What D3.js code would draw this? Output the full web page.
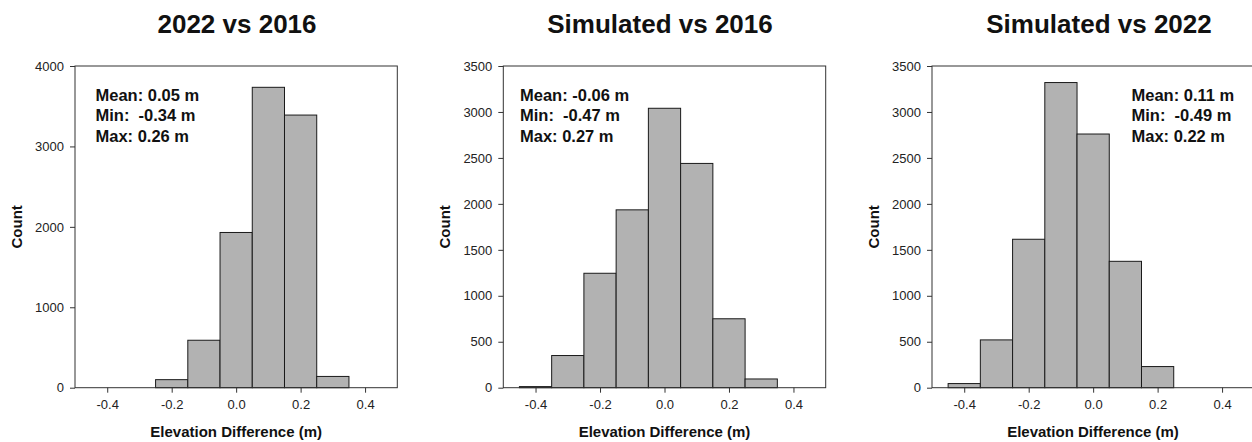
<!DOCTYPE html>
<html>
<head>
<meta charset="utf-8">
<script src="https://cdn.jsdelivr.net/npm/d3@7"></script>
<style>
  html, body { margin: 0; padding: 0; background: #fff; }
  svg { display: block; font-family: "Liberation Sans", Arial, sans-serif; }
</style>
</head>
<body>
<svg id="chart" width="1252" height="442"></svg>
<script>
// ---- data ----
const titles = ["2022 vs 2016", "Simulated vs 2016", "Simulated vs 2022"];
const binWidth = 0.1;
const centers1 = [-0.2, -0.1, 0.0, 0.1, 0.2, 0.3];
const counts1  = [100, 590, 1930, 3735, 3390, 140];
const centers2 = [-0.4, -0.3, -0.2, -0.1, 0.0, 0.1, 0.2, 0.3];
const counts2  = [12, 350, 1245, 1935, 3040, 2440, 750, 95];
const centers3 = [-0.4, -0.3, -0.2, -0.1, 0.0, 0.1, 0.2];
const counts3  = [45, 520, 1615, 3320, 2760, 1375, 230];
const yMax = [4000, 3500, 3500];
const yTicks1 = [0, 1000, 2000, 3000, 4000];
const yTicks23 = [0, 500, 1000, 1500, 2000, 2500, 3000, 3500];
const xTicks = [-0.4, -0.2, 0.0, 0.2, 0.4];
const stats1 = ["Mean: 0.05 m", "Min:  -0.34 m", "Max: 0.26 m"];
const stats2 = ["Mean: -0.06 m", "Min:  -0.47 m", "Max: 0.27 m"];
const stats3 = ["Mean: 0.11 m", "Min:  -0.49 m", "Max: 0.22 m"];
const xLabel = "Elevation Difference (m)";
const yLabel = "Count";

const panels = [
  {title: titles[0], centers: centers1, counts: counts1, yMax: yMax[0], yTicks: yTicks1, stats: stats1,
   left: 75, right: 397.3, titleX: 237, statsX: 95.5},
  {title: titles[1], centers: centers2, counts: counts2, yMax: yMax[1], yTicks: yTicks23, stats: stats2,
   left: 503.3, right: 825.7, titleX: 660, statsX: 520},
  {title: titles[2], centers: centers3, counts: counts3, yMax: yMax[2], yTicks: yTicks23, stats: stats3,
   left: 932, right: 1254.3, titleX: 1099, statsX: 1131.5}
];
const plotTop = 66, plotBottom = 387.7;

const svg = d3.select("#chart");

panels.forEach(p => {
  const x = d3.scaleLinear().domain([-0.5, 0.5]).range([p.left, p.right]);
  const y = d3.scaleLinear().domain([0, p.yMax]).range([plotBottom, plotTop]);
  const g = svg.append("g");

  // bars
  g.selectAll("rect.bar")
    .data(p.centers.map((c, i) => ({c, v: p.counts[i]})))
    .join("rect")
    .attr("class", "bar")
    .attr("x", d => x(d.c - binWidth / 2))
    .attr("width", d => x(d.c + binWidth / 2) - x(d.c - binWidth / 2))
    .attr("y", d => y(d.v))
    .attr("height", d => y(0) - y(d.v))
    .attr("fill", "#b2b2b2")
    .attr("stroke", "#1a1a1a")
    .attr("stroke-width", 1);

  // frame
  g.append("rect")
    .attr("x", p.left).attr("y", plotTop)
    .attr("width", p.right - p.left).attr("height", plotBottom - plotTop)
    .attr("fill", "none").attr("stroke", "#333").attr("stroke-width", 1);

  // x axis
  const xa = g.append("g").attr("transform", `translate(0,${plotBottom})`)
    .call(d3.axisBottom(x).tickValues(xTicks).tickFormat(d => d.toFixed(1)).tickSize(5).tickSizeOuter(0).tickPadding(7));
  xa.select(".domain").remove();
  xa.selectAll("text").attr("font-size", 13).attr("fill", "#222").attr("font-family", "Liberation Sans, Arial, sans-serif");
  xa.selectAll("line").attr("stroke", "#333");

  // y axis
  const ya = g.append("g").attr("transform", `translate(${p.left},0)`)
    .call(d3.axisLeft(y).tickValues(p.yTicks).tickFormat(d3.format("d")).tickSize(5).tickSizeOuter(0).tickPadding(6));
  ya.select(".domain").remove();
  ya.selectAll("text").attr("font-size", 13).attr("fill", "#222").attr("font-family", "Liberation Sans, Arial, sans-serif");
  ya.selectAll("line").attr("stroke", "#333");

  // title
  g.append("text")
    .attr("x", p.titleX).attr("y", 33)
    .attr("text-anchor", "middle")
    .attr("font-size", 26).attr("font-weight", "bold").attr("fill", "#111")
    .text(p.title);

  // axis labels
  g.append("text")
    .attr("x", (p.left + Math.min(p.right, 1254)) / 2).attr("y", 437)
    .attr("text-anchor", "middle")
    .attr("font-size", 15).attr("font-weight", "bold").attr("fill", "#111")
    .text(xLabel);
  g.append("text")
    .attr("transform", `translate(${p.left - 53.5},${(plotTop + plotBottom) / 2}) rotate(-90)`)
    .attr("text-anchor", "middle")
    .attr("font-size", 15).attr("font-weight", "bold").attr("fill", "#111")
    .text(yLabel);

  // stats
  g.selectAll("text.stat")
    .data(p.stats)
    .join("text")
    .attr("class", "stat")
    .attr("x", p.statsX)
    .attr("y", (d, i) => 101 + i * 20.3)
    .attr("font-size", 16.5).attr("font-weight", "bold").attr("fill", "#111")
    .attr("xml:space", "preserve")
    .style("white-space", "pre")
    .text(d => d);
});
</script>
</body>
</html>
